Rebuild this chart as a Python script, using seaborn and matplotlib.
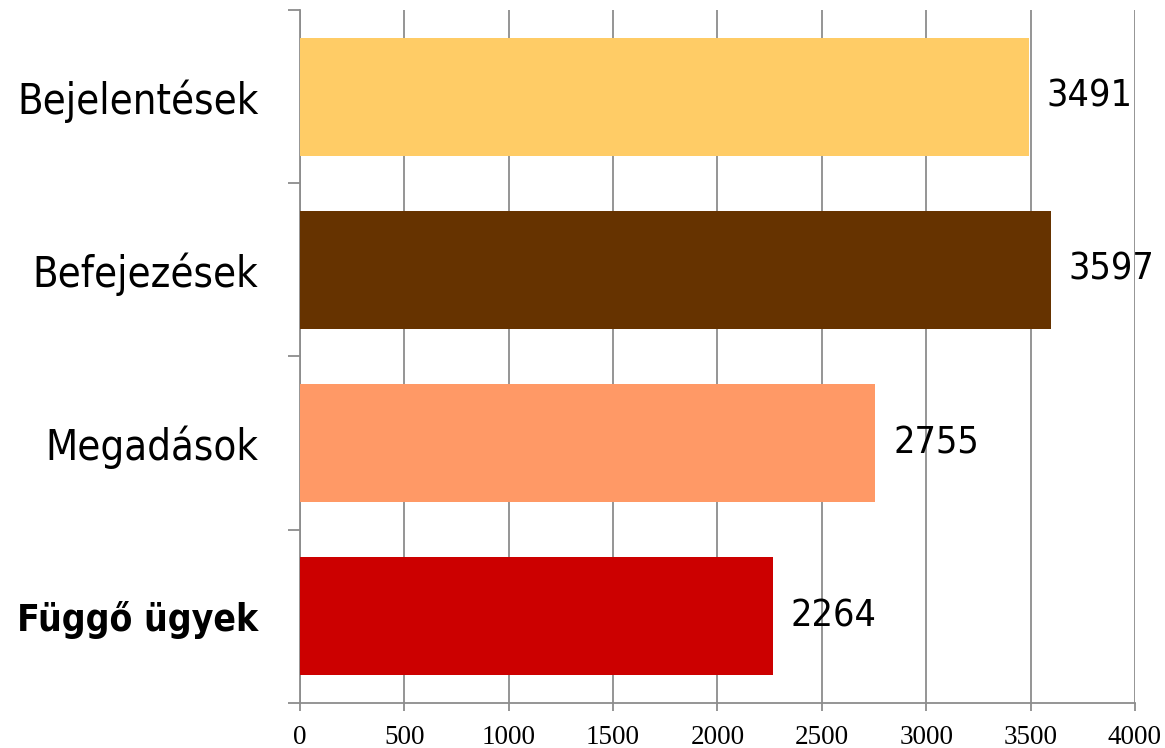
import matplotlib
matplotlib.use('Agg')
import matplotlib.pyplot as plt
import seaborn as sns
from matplotlib import font_manager
from matplotlib.ticker import FixedLocator, NullFormatter

# data
categories = ['Bejelentések', 'Befejezések', 'Megadások', 'Függő ügyek']
values = [3491, 3597, 2755, 2264]
colors = ['#FFCC66', '#663300', '#FF9966', '#CC0000']
x_ticks = [0, 500, 1000, 1500, 2000, 2500, 3000, 3500, 4000]

sns.set_style('white')
plt.rcParams['text.color'] = 'black'
plt.rcParams['xtick.color'] = 'black'
plt.rcParams['ytick.color'] = 'black'

# narrow sans for labels if available, otherwise a condensed DejaVu or smaller Liberation
fonts = font_manager.fontManager.ttflist
names = {f.name for f in fonts}
stretch = 'normal'
if 'Liberation Sans Narrow' in names:
    narrow = 'Liberation Sans Narrow'
    cat_size, bold_size, val_size = 34, 34, 33
elif any(f.name == 'DejaVu Sans' and 'condensed' in str(f.stretch) for f in fonts):
    narrow = 'DejaVu Sans'
    stretch = 'condensed'
    cat_size, bold_size, val_size = 30, 26.7, 27
else:
    narrow = 'Liberation Sans'
    cat_size, bold_size, val_size = 29, 27, 27

fig = plt.figure(figsize=(11.65, 7.48), dpi=100)
ax = fig.add_axes([0.2575, 0.0602, 0.9742 - 0.2575, 0.9866 - 0.0602])

sns.barplot(x=values, y=categories, hue=categories, palette=colors,
            legend=False, width=0.68, saturation=1, linewidth=0, ax=ax, zorder=3)

ax.set_xlim(0, 4000)
ax.set_ylim(3.5, -0.5)
ax.set_xlabel('')
ax.set_ylabel('')

# vertical gridlines
ax.xaxis.set_major_locator(FixedLocator(x_ticks))
ax.grid(axis='x', color='#8c8c8c', linewidth=1.3, zorder=0)
ax.grid(axis='y', visible=False)
ax.set_axisbelow(True)

for side in ['top', 'right']:
    ax.spines[side].set_visible(False)
for side in ['left', 'bottom']:
    ax.spines[side].set_color('#8c8c8c')
    ax.spines[side].set_linewidth(1.3)

# x tick labels in serif
ax.tick_params(axis='x', which='major', length=6, width=1.3, color='#8c8c8c',
               pad=10, labelsize=19.5, labelcolor='black', direction='out', bottom=True)
for lab in ax.get_xticklabels():
    lab.set_fontfamily('Liberation Serif')

# y: category labels with no tick, boundary ticks as minor ticks
ax.tick_params(axis='y', which='major', length=0, pad=30, labelcolor='black')
ax.yaxis.set_minor_locator(FixedLocator([-0.5, 0.5, 1.5, 2.5, 3.5]))
ax.yaxis.set_minor_formatter(NullFormatter())
ax.tick_params(axis='y', which='minor', length=9, width=1.3, color='#8c8c8c',
               direction='out', left=True)
for i, lab in enumerate(ax.get_yticklabels()):
    lab.set_fontfamily(narrow)
    lab.set_fontstretch(stretch)
    if i == 3:
        lab.set_fontsize(bold_size)
        lab.set_fontweight('bold')
    else:
        lab.set_fontsize(cat_size)

# value labels
for cont in ax.containers:
    labels = ax.bar_label(cont, fmt='%d', padding=13, color='black')
    for t in labels:
        t.set_fontfamily(narrow)
        t.set_fontstretch(stretch)
        t.set_fontsize(val_size)
        t.set_zorder(4)

fig.savefig('out.png', dpi=100, facecolor='white')
